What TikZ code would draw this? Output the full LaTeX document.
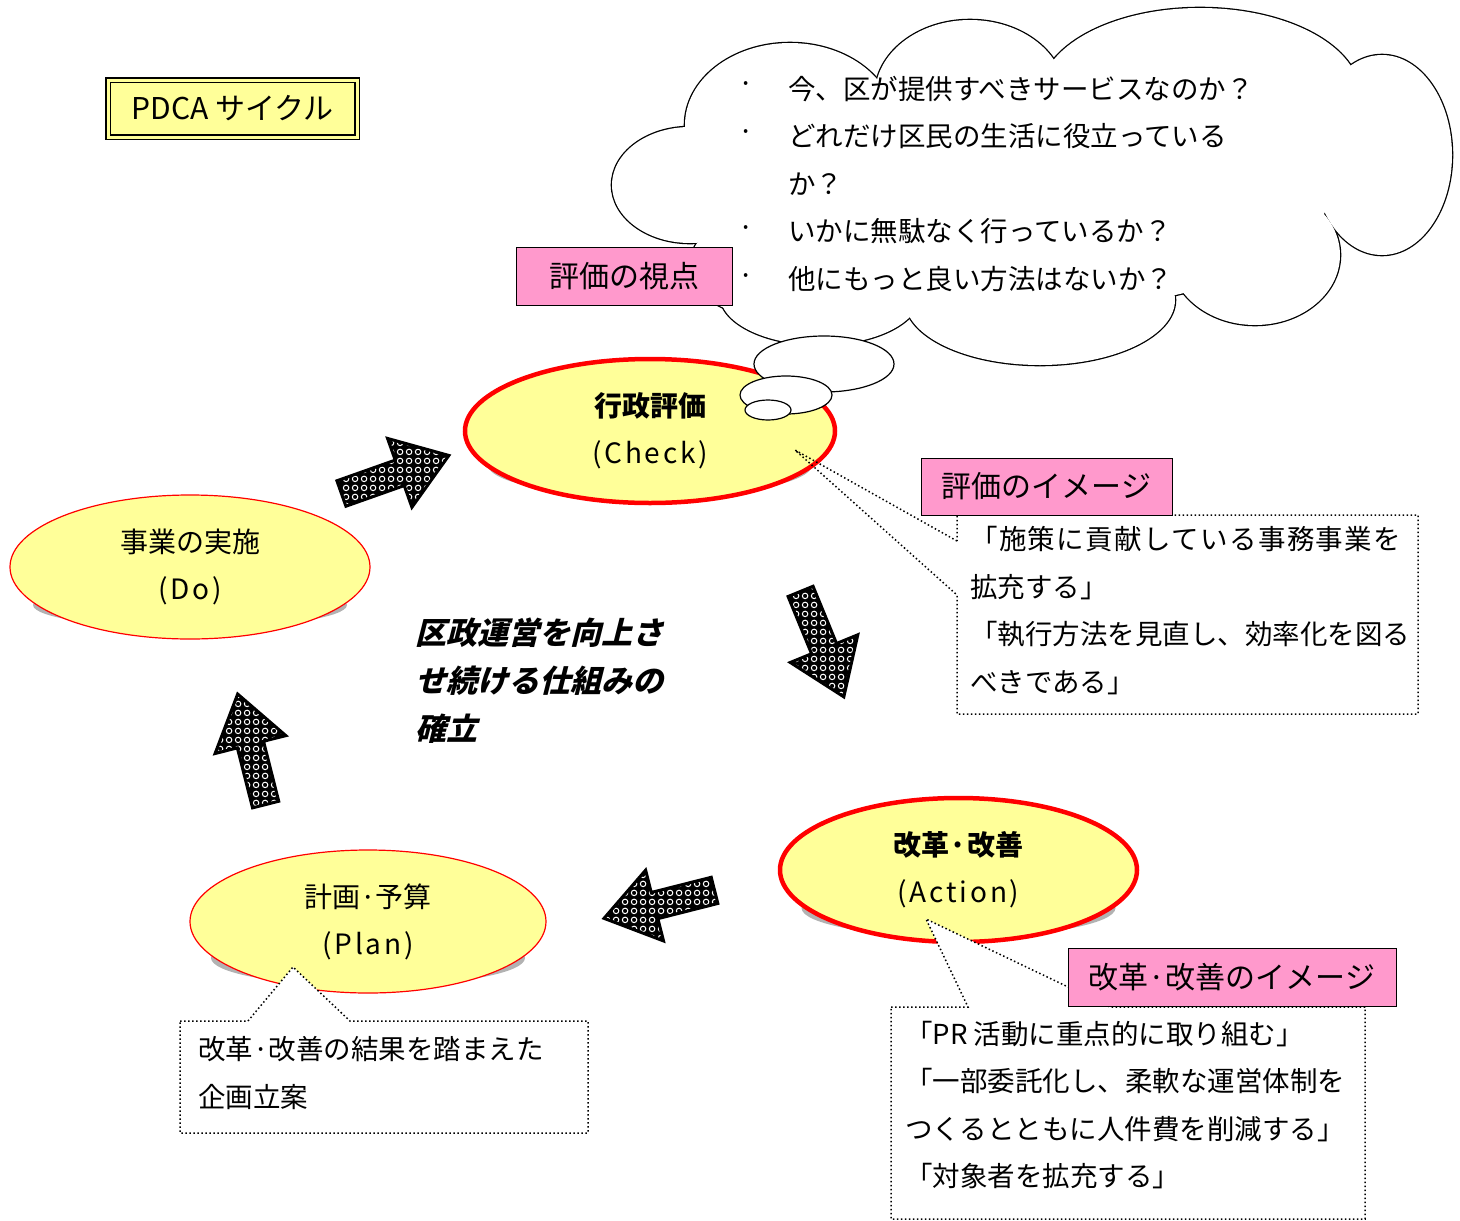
\documentclass[tikz,border=0pt]{standalone}
\usepackage{fontspec}
\setmainfont{Noto Sans CJK JP}
\newfontfamily\goalfont{Noto Sans CJK JP}[BoldFeatures={FakeSlant=0.25}]
\usetikzlibrary{shapes,arrows,positioning,calc,backgrounds,patterns}
\usepackage{xcolor}
\definecolor{pdcayellow}{HTML}{FFFF99}
\definecolor{labelpink}{HTML}{FF99CC}
\definecolor{shadowgray}{HTML}{B2B2B2}

\pgfdeclarepatternformonly{beads}{\pgfqpoint{0pt}{0pt}}{\pgfqpoint{9pt}{9pt}}{\pgfqpoint{9pt}{9pt}}{%
  \pgfsetlinewidth{1.1pt}%
  \pgfpathcircle{\pgfqpoint{4.5pt}{4.5pt}}{3pt}%
  \pgfusepath{stroke}%
}

\begin{document}
\begin{tikzpicture}[
    x=1pt, y=-1pt,
    phasenode/.style={ellipse, draw=red, fill=pdcayellow, inner sep=0pt, align=center, font=\fontsize{28}{47}\selectfont},
    keyphase/.style={phasenode, line width=4.5pt},
    pinktag/.style={draw, rectangle, fill=labelpink, line width=1pt, inner sep=0pt, minimum height=58pt, font=\fontsize{30}{36}\selectfont},
    notetext/.style={align=left, inner sep=0pt, anchor=west, font=\fontsize{27.5}{47.5}\selectfont},
    dottedbox/.style={draw, line width=1.5pt, dash pattern=on 1.5pt off 2.5pt},
    bigarrow/.style={single arrow, draw=black, line width=3pt, preaction={fill=black}, pattern=beads, pattern color=white, inner xsep=0pt, inner ysep=12pt, single arrow head extend=23pt, single arrow tip angle=70, minimum height=114pt, anchor=tail},
    thoughtpuff/.style={draw=black, fill=white, line width=1.2pt}
]
    \useasboundingbox (0,0) rectangle (1460,1221);

    % Title
    \node[draw, double=pdcayellow, double distance=3pt, line width=1.5pt, fill=pdcayellow, minimum width=249pt, minimum height=57pt, inner sep=0pt, font=\fontsize{30}{36}\selectfont] (title) at (232.5,108.5) {PDCA サイクル};

    % Nodes
    \node[keyphase, minimum width=370pt, minimum height=144pt] (check) at (650,431) {\textbf{行政評価}\\{\addfontfeature{LetterSpace=10}(Check)}};
    \node[phasenode, line width=1.2pt, minimum width=360pt, minimum height=144pt] (do) at (190,567) {事業の実施\\{\addfontfeature{LetterSpace=10}(Do)}};
    \node[phasenode, line width=1.2pt, minimum width=356pt, minimum height=143pt] (plan) at (368,921.5) {計画·予算\\{\addfontfeature{LetterSpace=10}(Plan)}};
    \node[keyphase, minimum width=357pt, minimum height=144pt] (action) at (958.5,870) {\textbf{改革·改善}\\{\addfontfeature{LetterSpace=10}(Action)}};

    % Shadows
    \begin{scope}[on background layer]
        \fill[shadowgray] ($(check.center)+(0,34)$) ellipse (162pt and 32pt);
        \fill[shadowgray] ($(do.center)+(0,38)$) ellipse (157pt and 23pt);
        \fill[shadowgray] ($(plan.center)+(0,36.5)$) ellipse (157pt and 28pt);
        \fill[shadowgray] ($(action.center)+(0,38)$) ellipse (157pt and 29pt);
    \end{scope}

    % Arrows
    \node[bigarrow, rotate=19.5] (docheck) at (340,494) {};
    \node[bigarrow, rotate=-67.7] (checkaction) at (800,590) {};
    \node[bigarrow, rotate=-165.8] (actionplan) at (716,890) {};
    \node[bigarrow, rotate=104.2] (plando) at (266,806) {};

    % Cloud
    \foreach \cx/\cy/\rx/\ry in {790/125/105/82, 970/95/95/75, 1200/95/160/87, 1382/155/70/100, 1255/255/85/70, 1040/300/135/65, 820/295/100/50, 760/265/70/50, 690/185/78/58, 1030/190/300/120}
        \draw[line width=2.6pt] (\cx,\cy) ellipse ({\rx pt} and {\ry pt});
    \foreach \cx/\cy/\rx/\ry in {790/125/105/82, 970/95/95/75, 1200/95/160/87, 1382/155/70/100, 1255/255/85/70, 1040/300/135/65, 820/295/100/50, 760/265/70/50, 690/185/78/58, 1030/190/300/120}
        \fill[white] (\cx,\cy) ellipse ({\rx pt} and {\ry pt});
    \draw[thoughtpuff] (824,364) ellipse (70pt and 28pt);
    \draw[thoughtpuff] (786,395) ellipse (46pt and 19pt);
    \draw[thoughtpuff] (768,410) ellipse (23pt and 10pt);

    \foreach \y in {88,136,232,280}
        \node[font=\fontsize{27.5}{30}\selectfont, inner sep=0pt] (dot\y) at (746,\y) {·};
    \node[notetext] (viewtext) at (788,184) {今、区が提供すべきサービスなのか？\\どれだけ区民の生活に役立っている\\か？\\いかに無駄なく行っているか？\\他にもっと良い方法はないか？};

    % Callouts
    \draw[dottedbox] (957,541) -- (795,450) -- (957,595) -- (957,714) -- (1418,714) -- (1418,515) -- (957,515) -- cycle;
    \draw[dottedbox, fill=white] (891,1007) -- (968,1007) -- (926,919) -- (1110,1007) -- (1365,1007) -- (1365,1219) -- (891,1219) -- cycle;
    \draw[dottedbox, fill=white] (180,1021) -- (248,1021) -- (293,967) -- (350,1021) -- (588,1021) -- (588,1133) -- (180,1133) -- cycle;

    \node[pinktag, minimum width=216pt] (viewpoint) at (624,276) {評価の視点};
    \node[pinktag, minimum width=251pt, minimum height=57pt] (checkimage) at (1046.5,486.5) {評価のイメージ};
    \node[pinktag, minimum width=328pt] (actionimage) at (1232,977) {改革·改善のイメージ};

    \node[notetext] (checknote) at (970,610.5) {\addfontfeature{LetterSpace=5}「施策に貢献している事務事業を\\拡充する」\\「執行方法を見直し、効率化を図る\\べきである」};
    \node[notetext] (actionnote) at (905,1105) {「PR 活動に重点的に取り組む」\\「一部委託化し、柔軟な運営体制を\\つくるとともに人件費を削減する」\\「対象者を拡充する」};
    \node[notetext] (plannote) at (198,1073) {改革·改善の結果を踏まえた\\企画立案};

    % Goal
    \node[align=left, anchor=west, inner sep=0pt, font=\fontsize{31}{48}\selectfont\goalfont\bfseries] (goal) at (415,681) {区政運営を向上さ\\せ続ける仕組みの\\確立};

\end{tikzpicture}
\end{document}
